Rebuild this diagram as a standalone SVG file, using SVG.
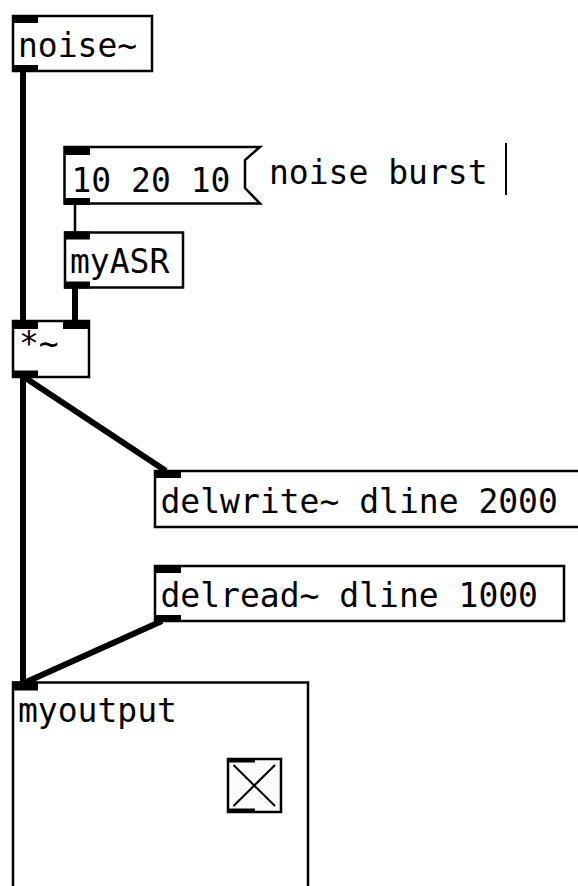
<svg xmlns="http://www.w3.org/2000/svg" width="578" height="886" viewBox="0 0 578 886">
<style>
.box{fill:#fff;stroke:#000;stroke-width:2.5}
.io{fill:#000}
.t{font-family:"DejaVu Sans Mono",monospace;font-size:33px;fill:#000}
.sig{stroke:#000;stroke-width:6;fill:none}
.ctl{stroke:#000;stroke-width:2.5;fill:none}
</style>
<rect width="578" height="886" fill="#fff"/>
<g id="connectors">
<line class="sig" x1="23" y1="72" x2="23" y2="321"/>
<line class="ctl" x1="75" y1="204" x2="75" y2="232"/>
<line class="sig" x1="75" y1="288" x2="75" y2="321"/>
<line class="sig" x1="24" y1="377" x2="166" y2="471"/>
<line class="sig" x1="23" y1="377" x2="23" y2="682"/>
<line class="sig" x1="162" y1="621" x2="24" y2="683"/>
</g>
<g id="noise">
<rect class="box" x="13" y="16" width="139" height="55"/>
<rect class="io" x="12" y="15" width="26" height="8"/>
<rect class="io" x="12" y="65" width="26" height="7"/>
<text class="t" x="18" y="56.5">noise~</text>
</g>
<g id="msg">
<path class="box" d="M64.5,147 H260 L245,160 V188 L260,203.5 H64.5 Z"/>
<rect class="io" x="64" y="146" width="26" height="9"/>
<rect class="io" x="64" y="198" width="26" height="7"/>
<text class="t" x="71.5" y="191.5">10 20 10</text>
</g>
<g id="comment">
<text class="t" x="269" y="184">noise burst</text>
<line x1="506" y1="143" x2="506" y2="195" stroke="#000" stroke-width="2"/>
</g>
<g id="myASR">
<rect class="box" x="65" y="232.5" width="118" height="55"/>
<rect class="io" x="64" y="231.5" width="26" height="8"/>
<rect class="io" x="64" y="281.5" width="26" height="7"/>
<text class="t" x="70" y="273">myASR</text>
</g>
<g id="mul">
<rect class="box" x="13" y="321" width="76" height="56"/>
<rect class="io" x="12" y="320" width="26" height="9"/>
<rect class="io" x="63" y="320" width="27" height="9"/>
<rect class="io" x="12" y="370.5" width="26" height="7"/>
<text class="t" x="19" y="355">*~</text>
</g>
<g id="delwrite">
<rect class="box" x="155" y="471" width="440" height="56"/>
<rect class="io" x="154" y="470" width="27" height="8"/>
<text class="t" x="160.5" y="513.3">delwrite~ dline 2000</text>
</g>
<g id="delread">
<rect class="box" x="155" y="566" width="409" height="55"/>
<rect class="io" x="154" y="565" width="27" height="8"/>
<rect class="io" x="154" y="615" width="27" height="7"/>
<text class="t" x="160.5" y="606.7">delread~ dline 1000</text>
</g>
<g id="myoutput">
<rect class="box" x="13" y="682.5" width="295" height="220"/>
<rect class="io" x="12" y="681.5" width="26" height="9"/>
<text class="t" x="18" y="721.7">myoutput</text>
</g>
<g id="toggle">
<rect x="228" y="759" width="53" height="53" fill="#fbfbfb" stroke="#000" stroke-width="2.5"/>
<rect class="io" x="227" y="758" width="28" height="4.5"/>
<rect class="io" x="227" y="808.5" width="28" height="4.5"/>
<line x1="233.5" y1="765" x2="275" y2="806" stroke="#000" stroke-width="2"/>
<line x1="275" y1="765" x2="233.5" y2="806" stroke="#000" stroke-width="2"/>
</g>
</svg>
